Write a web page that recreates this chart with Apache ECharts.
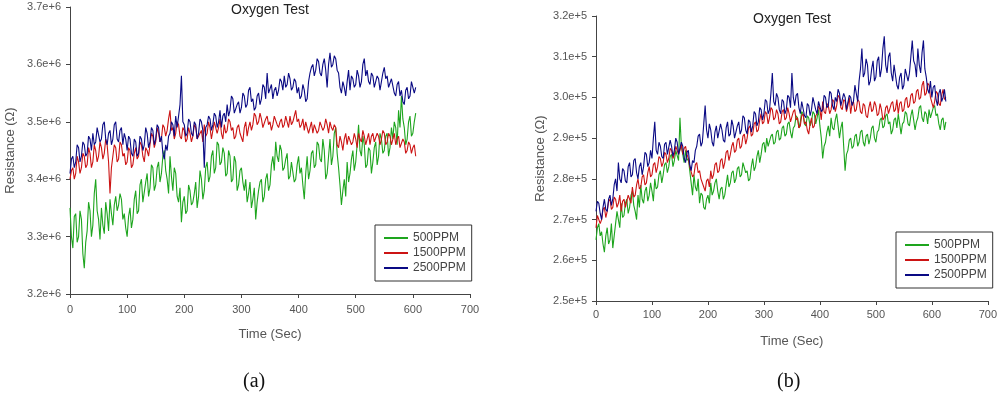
<!DOCTYPE html>
<html>
<head>
<meta charset="utf-8">
<script src="https://cdn.jsdelivr.net/npm/echarts@6/dist/echarts.min.js"></script>
<style>
html,body{margin:0;padding:0;background:#fff;}
#c{width:1000px;height:396px;}
</style>
</head>
<body>
<div id="c"></div>
<script>
var TIME_STEP = 2.5;
var SERIES_NAMES = ['500PPM', '1500PPM', '2500PPM'];

// Panel (a): resistance in kΩ (3350 = 3.35e+6 Ω)
var A_500 = [3350,3300,3280,3335,3340,3290,3300,3345,3330,3270,3245,3290,3310,3360,3345,3300,3320,3375,3400,3345,
  3330,3295,3350,3320,3305,3360,3340,3310,3365,3340,3320,3355,3370,3345,3355,3375,3365,3330,3340,3315,
  3300,3335,3350,3315,3330,3365,3380,3340,3345,3390,3400,3360,3360,3395,3410,3370,3385,3425,3420,3380,
  3390,3420,3430,3395,3410,3440,3450,3415,3400,3375,3440,3405,3380,3420,3410,3370,3360,3385,3325,3360,
  3370,3340,3345,3390,3380,3355,3360,3375,3395,3350,3370,3415,3400,3365,3380,3420,3430,3395,3405,3440,
  3450,3410,3420,3465,3460,3425,3430,3455,3445,3405,3410,3450,3440,3395,3400,3440,3430,3380,3390,3415,
  3420,3395,3380,3400,3360,3375,3395,3350,3365,3385,3330,3360,3380,3395,3400,3360,3370,3400,3410,3380,
  3390,3425,3440,3415,3465,3440,3430,3460,3450,3415,3420,3435,3445,3400,3405,3430,3430,3395,3400,3425,
  3440,3410,3420,3390,3365,3410,3440,3400,3415,3445,3450,3420,3425,3465,3460,3435,3430,3470,3450,3400,
  3410,3440,3470,3425,3440,3480,3490,3445,3420,3390,3355,3380,3400,3370,3430,3395,3410,3435,3450,3415,
  3430,3460,3495,3450,3440,3475,3460,3420,3425,3455,3450,3410,3430,3455,3465,3425,3440,3480,3470,3445,
  3450,3475,3480,3440,3455,3490,3470,3500,3490,3460,3520,3490,3545,3505,3490,3460,3470,3500,3510,3475,
  3480,3500,3515];
var A_1500 = [3400,3415,3420,3400,3410,3440,3430,3410,3420,3445,3440,3420,3425,3455,3445,3420,3430,3460,3450,3430,
  3440,3465,3455,3435,3445,3470,3460,3430,3375,3420,3440,3460,3455,3430,3435,3465,3460,3440,3445,3425,
  3430,3455,3450,3420,3425,3445,3455,3435,3440,3465,3460,3440,3430,3455,3450,3440,3460,3480,3475,3455,
  3465,3490,3480,3465,3470,3495,3490,3475,3485,3505,3520,3485,3490,3470,3480,3500,3495,3475,3470,3490,
  3485,3465,3470,3490,3480,3465,3475,3495,3490,3470,3470,3480,3485,3465,3495,3475,3480,3500,3490,3470,
  3485,3500,3500,3480,3490,3505,3480,3470,3495,3480,3485,3505,3500,3485,3490,3470,3475,3490,3495,3480,
  3480,3465,3490,3500,3475,3490,3500,3485,3495,3515,3510,3495,3500,3515,3505,3490,3490,3505,3510,3495,
  3500,3485,3495,3510,3510,3495,3490,3500,3505,3490,3495,3510,3500,3490,3510,3495,3500,3510,3520,3500,
  3505,3490,3495,3505,3485,3500,3500,3480,3490,3500,3480,3495,3495,3480,3485,3500,3500,3485,3490,3505,
  3495,3480,3500,3490,3485,3495,3490,3460,3455,3475,3465,3450,3470,3480,3460,3475,3475,3460,3465,3480,
  3470,3455,3480,3470,3465,3485,3475,3460,3470,3480,3460,3475,3480,3465,3465,3480,3475,3460,3470,3485,
  3480,3460,3465,3480,3475,3460,3470,3480,3460,3470,3475,3455,3455,3470,3465,3445,3450,3465,3460,3445,
  3455,3460,3440];
var A_2500 = [3410,3435,3440,3420,3430,3460,3455,3430,3440,3465,3460,3440,3445,3475,3470,3450,3480,3460,3465,3490,
  3490,3465,3470,3495,3500,3470,3460,3480,3485,3460,3470,3495,3500,3470,3465,3485,3490,3460,3480,3470,
  3450,3475,3470,3445,3440,3470,3465,3440,3445,3475,3470,3450,3460,3490,3480,3455,3465,3490,3485,3460,
  3470,3495,3490,3465,3475,3445,3435,3460,3450,3475,3480,3500,3495,3475,3510,3490,3490,3530,3580,3500,
  3495,3475,3480,3505,3500,3480,3475,3500,3495,3470,3480,3505,3500,3485,3420,3490,3495,3510,3505,3485,
  3495,3515,3510,3490,3500,3520,3490,3510,3515,3500,3530,3510,3520,3545,3540,3515,3515,3530,3535,3515,
  3525,3550,3545,3525,3530,3555,3560,3535,3540,3520,3525,3545,3550,3530,3540,3565,3560,3540,3585,3550,
  3550,3565,3540,3555,3560,3545,3555,3575,3570,3555,3580,3560,3565,3585,3575,3555,3560,3575,3570,3550,
  3560,3540,3545,3565,3555,3535,3540,3570,3585,3595,3600,3580,3590,3610,3605,3585,3580,3600,3610,3590,
  3560,3600,3620,3595,3600,3615,3610,3590,3585,3560,3550,3570,3560,3545,3570,3590,3555,3580,3575,3560,
  3565,3590,3580,3560,3570,3600,3610,3580,3590,3570,3565,3585,3580,3560,3560,3580,3575,3555,3570,3585,
  3595,3575,3580,3560,3560,3575,3575,3550,3545,3565,3570,3545,3555,3535,3530,3555,3560,3540,3545,3570,
  3570,3550,3560];

// Panel (b): resistance in units of 100 Ω (2650 = 2.65e+5 Ω)
var B_500 = [2650,2680,2690,2660,2670,2640,2620,2660,2680,2640,2650,2690,2630,2660,2690,2720,2700,2680,2740,2705,
  2710,2740,2750,2715,2730,2760,2770,2735,2720,2700,2760,2730,2785,2750,2740,2770,2780,2745,2760,2790,
  2770,2745,2800,2775,2780,2810,2820,2790,2810,2835,2840,2815,2830,2855,2860,2830,2845,2870,2870,2845,
  2950,2880,2860,2840,2870,2845,2850,2820,2790,2760,2810,2780,2770,2800,2740,2765,2760,2730,2725,2750,
  2760,2740,2790,2760,2770,2790,2800,2770,2750,2775,2780,2750,2760,2785,2810,2780,2790,2815,2820,2790,
  2800,2825,2830,2805,2810,2840,2840,2815,2820,2795,2800,2830,2850,2820,2830,2855,2870,2840,2860,2885,
  2890,2865,2900,2880,2880,2905,2910,2885,2890,2915,2920,2895,2900,2925,2930,2905,2910,2935,2940,2915,
  2900,2925,2930,2955,2950,2925,2940,2965,2960,2935,2930,2955,2950,2930,2940,2965,2960,2935,2950,2970,
  2930,2900,2850,2880,2890,2915,2930,2905,2950,2925,2920,2945,2960,2930,2900,2925,2940,2880,2820,2860,
  2870,2895,2900,2875,2880,2905,2910,2880,2890,2915,2920,2890,2880,2905,2910,2885,2900,2925,2930,2900,
  2890,2915,2920,2945,2950,2925,2930,2955,2960,2935,2940,2910,2920,2945,2950,2925,2960,2935,2910,2935,
  2940,2965,2960,2935,2930,2955,2970,2945,2920,2940,2950,2975,2980,2950,2940,2965,2960,2935,2970,2950,
  2950,2975,2980,2955,2960,2935,2920,2945,2950,2920,2940];
var B_1500 = [2680,2710,2710,2690,2700,2725,2730,2705,2720,2745,2750,2725,2730,2755,2750,2730,2740,2760,2720,2745,
  2750,2730,2730,2760,2760,2740,2780,2755,2760,2785,2800,2775,2780,2805,2810,2785,2790,2815,2830,2805,
  2810,2835,2840,2815,2830,2855,2850,2830,2840,2865,2860,2840,2850,2875,2870,2850,2860,2880,2880,2860,
  2870,2885,2860,2875,2880,2860,2850,2830,2830,2805,2810,2835,2840,2815,2820,2800,2800,2780,2770,2795,
  2800,2780,2820,2800,2810,2835,2840,2815,2820,2845,2850,2825,2840,2865,2870,2845,2860,2880,2890,2865,
  2870,2895,2900,2875,2880,2905,2910,2885,2900,2925,2930,2905,2910,2935,2940,2915,2920,2945,2960,2935,
  2940,2965,2960,2935,2950,2975,2970,2945,2950,2970,2960,2935,2940,2965,2970,2945,2950,2975,2960,2940,
  2940,2965,2970,2945,2950,2925,2930,2955,2960,2935,2940,2920,2910,2935,2950,2925,2930,2955,2960,2980,
  2970,2945,2990,2965,2960,2985,2980,2960,2970,2995,2990,2965,2980,3005,3000,2975,2970,2995,2990,2965,
  2980,3000,2960,2985,2990,2965,2970,2995,2990,2965,2960,2985,2980,2955,2950,2975,2990,2965,2970,2990,
  2980,2955,2960,2985,2970,2945,2950,2975,2980,2960,2960,2985,2990,2965,2970,2995,2960,2985,2990,2965,
  2970,2995,3000,2975,2980,3005,3010,2985,2990,3015,3020,2995,3000,3030,3040,3005,3010,3035,3030,3000,
  3000,2975,2990,3015,3010,2985,2980,3005,3020,2995,3000];
var B_2500 = [2720,2745,2740,2715,2700,2730,2750,2725,2720,2750,2760,2735,2750,2785,2800,2770,2840,2800,2790,2825,
  2820,2795,2790,2830,2840,2805,2810,2845,2850,2815,2800,2830,2840,2810,2830,2865,2860,2830,2840,2870,
  2850,2900,2940,2870,2860,2890,2880,2855,2850,2885,2890,2860,2860,2895,2880,2855,2870,2900,2890,2860,
  2860,2890,2880,2850,2840,2865,2870,2835,2820,2845,2840,2870,2880,2905,2910,2880,2890,2935,2980,2920,
  2900,2935,2920,2890,2880,2915,2930,2900,2900,2935,2920,2895,2890,2925,2940,2905,2910,2945,2930,2900,
  2900,2930,2940,2910,2920,2955,2950,2920,2910,2945,2940,2915,2930,2965,2960,2930,2940,2975,2970,2945,
  2960,2995,2990,2960,2970,3010,3060,2990,2980,3010,3000,2970,2960,2995,2990,2960,2970,3005,3000,2975,
  3060,3000,2980,3005,3010,2975,2960,2990,2990,2955,2950,2985,2980,2955,2970,3000,3000,2970,2960,2990,
  2990,2965,2970,3005,3000,2975,2980,3015,3010,2980,2970,3000,2990,3020,3010,2980,2980,3010,3000,2970,
  2970,3005,3000,2980,2990,3030,3010,2990,3040,3070,3120,3050,3060,3095,3080,3030,3040,3070,3090,3040,
  3050,3090,3100,3050,3070,3120,3150,3080,3060,3100,3110,3060,3040,3080,3080,3030,3020,3050,3060,3020,
  3030,3070,3070,3040,3060,3100,3140,3090,3080,3050,3120,3080,3060,3110,3140,3070,3050,3020,3010,3040,
  3000,3025,3030,2995,2980,3010,3020,2990,3000,3020,2990];

// Axis tick labels
var A_Y_TICKS = ['3.2e+6','3.3e+6','3.4e+6','3.5e+6','3.6e+6','3.7e+6'];
var B_Y_TICKS = ['2.5e+5','2.6e+5','2.7e+5','2.8e+5','2.9e+5','3.0e+5','3.1e+5','3.2e+5'];

var COLORS = ['#1ea51e', '#cc1414', '#0a0a84'];

function toPairs(arr) {
  return arr.map(function (v, i) { return [i * TIME_STEP, v]; });
}

var chart = echarts.init(document.getElementById('c'), null, {renderer: 'canvas'});

var FONT = 'Liberation Sans, Arial, sans-serif';
var axisLine = {show: true, lineStyle: {color: '#444', width: 1}};
var axisTick = {show: true, length: 4, lineStyle: {color: '#444'}};
var labelStyle = {color: '#555', fontSize: 11, fontFamily: FONT};
var nameStyle = {color: '#555', fontSize: 13, fontFamily: FONT};

function xAxis(grid, margin, gap) {
  return {
    type: 'value', gridIndex: grid, min: 0, max: 700, interval: 100,
    axisLine: axisLine, axisTick: axisTick, splitLine: {show: false},
    axisLabel: Object.assign({margin: margin}, labelStyle),
    name: 'Time (Sec)', nameLocation: 'middle', nameGap: gap, nameTextStyle: nameStyle
  };
}

function yAxis(grid, min, max, ticks, gap) {
  return {
    type: 'value', gridIndex: grid, min: min, max: max, interval: 100,
    axisLine: axisLine, axisTick: axisTick, splitLine: {show: false},
    axisLabel: Object.assign({margin: 9, formatter: function (v) {
      return ticks[Math.round((v - min) / 100)];
    }}, labelStyle),
    name: 'Resistance (Ω)', nameLocation: 'middle', nameGap: gap, nameTextStyle: nameStyle
  };
}

var seriesList = [];
[[A_500, A_1500, A_2500], [B_500, B_1500, B_2500]].forEach(function (group, g) {
  group.forEach(function (arr, k) {
    seriesList.push({
      type: 'line', name: SERIES_NAMES[k], xAxisIndex: g, yAxisIndex: g,
      data: toPairs(arr), symbol: 'none', animation: false,
      lineStyle: {color: COLORS[k], width: 1.1}, itemStyle: {color: COLORS[k]}
    });
  });
});

function legend(left, top) {
  return {
    data: SERIES_NAMES, orient: 'vertical', left: left, top: top,
    backgroundColor: '#fff', borderColor: '#333', borderWidth: 1,
    padding: [7, 6, 7, 9], itemGap: 3, itemWidth: 24, itemHeight: 2,
    icon: 'rect', selectedMode: false,
    textStyle: {color: '#444', fontSize: 12, fontFamily: FONT, lineHeight: 12}
  };
}

chart.setOption({
  backgroundColor: '#fff',
  animation: false,
  title: [
    {text: 'Oxygen Test', left: 265, top: -2, textAlign: 'center',
     textStyle: {fontSize: 14, fontWeight: 'normal', color: '#222', fontFamily: FONT}},
    {text: 'Oxygen Test', left: 787, top: 7, textAlign: 'center',
     textStyle: {fontSize: 14, fontWeight: 'normal', color: '#222', fontFamily: FONT}}
  ],
  grid: [
    {left: 70, top: 7, width: 400, height: 287},
    {left: 596, top: 16, width: 394, height: 285}
  ],
  xAxis: [xAxis(0, 10, 34), xAxis(1, 8, 34)],
  yAxis: [yAxis(0, 3200, 3700, A_Y_TICKS, 53), yAxis(1, 2500, 3200, B_Y_TICKS, 49)],
  legend: [legend(375, 225), legend(896, 232)],
  series: seriesList,
  graphic: [
    {type: 'text', left: 243, top: 372, style: {text: '(a)', fontSize: 20, fill: '#111', fontFamily: 'Liberation Serif, Times New Roman, serif'}},
    {type: 'text', left: 777, top: 372, style: {text: '(b)', fontSize: 20, fill: '#111', fontFamily: 'Liberation Serif, Times New Roman, serif'}}
  ]
});
</script>
</body>
</html>
